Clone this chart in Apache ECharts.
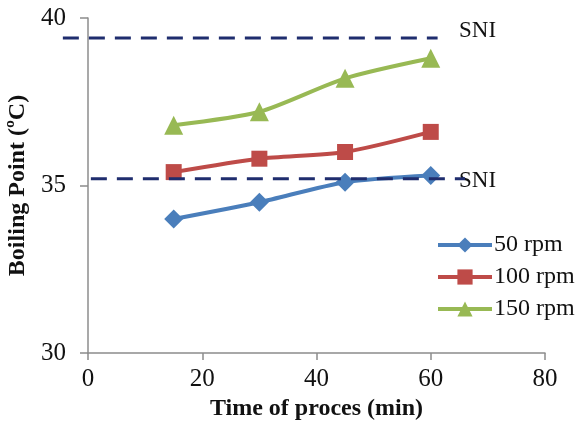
<!DOCTYPE html>
<html>
<head>
<meta charset="utf-8">
<script src="https://cdn.jsdelivr.net/npm/echarts@6/dist/echarts.min.js"></script>
<style>
  html, body { margin: 0; padding: 0; background: #fff; }
  #chart { width: 579px; height: 422px; }
</style>
</head>
<body>
<div id="chart"></div>
<script>
// data
const times = [15, 30, 45, 60]
const rpm50 = [34.0, 34.5, 35.1, 35.3]
const rpm100 = [35.4, 35.8, 36.0, 36.6]
const rpm150 = [36.8, 37.2, 38.2, 38.8]
const sniHigh = 39.4
const sniLow = 35.2
const sniHighX = [-4.4, 61.2]
const sniLowX = [0.5, 66]

const font = 'Liberation Serif, Times New Roman, serif'
const axisGrey = '#8c8c8c'

const chart = echarts.init(document.getElementById('chart'))

function rpmSeries(name, values, color, symbol) {
  return {
    name: name,
    type: 'line',
    smooth: 0.25,
    data: times.map((t, i) => [t, values[i]]),
    symbol: symbol,
    symbolSize: symbol === 'rect' ? 16 : 19,
    lineStyle: { color: color, width: 4 },
    itemStyle: { color: color },
    z: 3
  }
}

function sniSeries(xs, y, axisIdx) {
  return {
    type: 'line',
    clip: false,
    silent: true,
    symbol: 'none',
    xAxisIndex: axisIdx,
    yAxisIndex: axisIdx,
    data: xs.map(x => [x, y]),
    lineStyle: { color: '#1f2d6e', width: 3, type: [16, 10] },
    z: 4
  }
}

const hiddenAxis = {
  show: false,
  splitLine: { show: false }
}

chart.setOption({
  animation: false,
  backgroundColor: '#fff',
  textStyle: { fontFamily: font },
  grid: [
    { left: 88, top: 18, right: 34, bottom: 69, outerBoundsMode: 'none', containLabel: false },
    // wider copy of the plot so the upper SNI line can start left of the axis
    { left: 62, top: 18, right: 34, bottom: 69, outerBoundsMode: 'none', containLabel: false }
  ],
  legend: {
    orient: 'vertical',
    left: 431,
    top: 228,
    itemWidth: 54,
    itemHeight: 19,
    itemGap: 8,
    data: ['50 rpm', '100 rpm', '150 rpm'],
    lineStyle: { width: 4 },
    textStyle: { fontFamily: font, fontSize: 24, color: '#111', padding: [0, 0, 0, -3] }
  },
  xAxis: [{
    type: 'value',
    min: 0,
    max: 80,
    interval: 20,
    name: 'Time of proces (min)',
    nameLocation: 'middle',
    nameGap: 44,
    nameTextStyle: { fontFamily: font, fontSize: 24, fontWeight: 'bold', color: '#111' },
    axisLine: { show: true, lineStyle: { color: axisGrey, width: 1.5 } },
    axisTick: { show: true, length: 7, lineStyle: { color: axisGrey, width: 1.5 } },
    axisLabel: { fontFamily: font, fontSize: 25, color: '#111', margin: 14 },
    splitLine: { show: false }
  }, Object.assign({ type: 'value', gridIndex: 1, min: -4.55, max: 80 }, hiddenAxis)],
  yAxis: [{
    type: 'value',
    min: 30,
    max: 40,
    interval: 5,
    name: 'Boiling Point (ºC)',
    nameLocation: 'middle',
    nameGap: 45,
    nameTextStyle: { fontFamily: font, fontSize: 24, fontWeight: 'bold', color: '#111' },
    axisLine: { show: true, lineStyle: { color: axisGrey, width: 1.5 } },
    axisTick: { show: true, length: 8, lineStyle: { color: axisGrey, width: 1.5 } },
    axisLabel: { fontFamily: font, fontSize: 25, color: '#111', margin: 22 },
    splitLine: { show: false }
  }, Object.assign({ type: 'value', gridIndex: 1, min: 30, max: 40 }, hiddenAxis)],
  graphic: [
    { type: 'text', left: 459, top: 19, style: { text: 'SNI', font: '23px ' + font, fill: '#111' } },
    { type: 'text', left: 459, top: 169, style: { text: 'SNI', font: '23px ' + font, fill: '#111' } }
  ],
  series: [
    rpmSeries('50 rpm', rpm50, '#4a7ebb', 'diamond'),
    rpmSeries('100 rpm', rpm100, '#be4b48', 'rect'),
    rpmSeries('150 rpm', rpm150, '#98b954', 'triangle'),
    sniSeries(sniHighX, sniHigh, 1),
    sniSeries(sniLowX, sniLow, 0)
  ]
})
</script>
</body>
</html>
